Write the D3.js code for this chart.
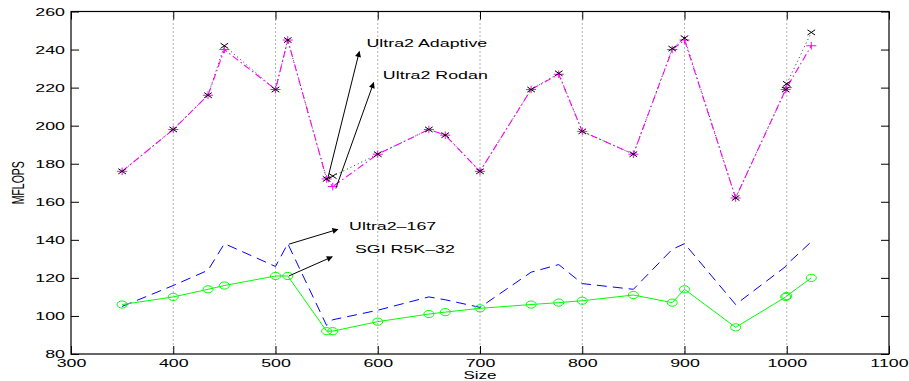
<!DOCTYPE html>
<html>
<head>
<meta charset="utf-8">
<script src="https://cdn.jsdelivr.net/npm/d3@7"></script>
<style>
  body { margin: 0; background: #fff; }
  svg { display: block; font-family: "Liberation Sans", Arial, sans-serif; }
</style>
</head>
<body>
<div id="chart"></div>
<script>
// matrix sizes and MFLOPS
const sizes = [350, 400, 434, 450, 500, 512, 550, 556, 600, 650, 666, 700, 750, 777, 800, 850, 888, 900, 950, 999, 1000, 1024]
const adaptive = [176, 198, 216, 242, 219, 245, 172, 173.5, 185, 198, 195, 176, 219, 227.5, 197, 185, 240.5, 246, 162, 219, 222, 249]
const rodan = [176, 198, 216, 240, 219, 245, 172, 168, 185, 198, 195, 176, 219, 227, 197, 185, 240, 245, 162, 219, 220, 242]
const ultra167 = [105, 116, 124, 138, 126, 138, 95, 98, 103, 110, 108.5, 104.5, 123, 127, 117, 114, 135, 138, 106, 126, 127, 139]
const sgi = [106, 110, 114, 116, 121, 121, 92, 92, 97, 101, 102, 104, 106, 107, 108, 111, 107, 114, 94, 110, 110.5, 120]

const xTickValues = [300, 400, 500, 600, 700, 800, 900, 1000, 1100]
const yTickValues = [80, 100, 120, 140, 160, 180, 200, 220, 240, 260]

// text label, arrow tail [size, mflops], arrow head, text anchor point
const annotations = [
  { label: 'Ultra2 Adaptive', from: [551, 172], to: [582, 239], at: [589, 241.5] },
  { label: 'Ultra2 Rodan', from: [559, 167], to: [596, 222.6], at: [605, 224.7] },
  { label: 'Ultra2–167', from: [513, 137.7], to: [561, 145.5], at: [572, 145.2] },
  { label: 'SGI R5K–32', from: [513, 121], to: [555.5, 131.1], at: [577.7, 132.9] }
]

const width = 909
const height = 381
const margin = { top: 11.5, right: 20, bottom: 27, left: 71 }
const stretch = 1.62 // the picture is squeezed, text comes out wide

const svg = d3.select('#chart')
  .append('svg')
  .attr('width', width)
  .attr('height', height)

const x = d3.scaleLinear()
  .domain([300, 1100])
  .range([margin.left, width - margin.right])

const y = d3.scaleLinear()
  .domain([80, 260])
  .range([height - margin.bottom, margin.top])

const defs = svg.append('defs')
defs.append('marker')
  .attr('id', 'head')
  .attr('viewBox', '0 0 10 10')
  .attr('refX', 9)
  .attr('refY', 5)
  .attr('markerWidth', 9)
  .attr('markerHeight', 6)
  .attr('markerUnits', 'userSpaceOnUse')
  .attr('orient', 'auto')
  .append('path')
  .attr('d', 'M0,0L10,5L0,10Z')
  .attr('fill', '#000')

// vertical dotted grid
svg.append('g')
  .selectAll('line')
  .data(xTickValues.slice(1, -1))
  .join('line')
  .attr('x1', d => x(d))
  .attr('x2', d => x(d))
  .attr('y1', y(260))
  .attr('y2', y(80))
  .attr('stroke', '#666')
  .attr('stroke-width', 1)
  .attr('stroke-dasharray', '1,3')

const tickLen = 8

const styleAxis = g => {
  g.select('.domain').remove()
  g.selectAll('line').attr('stroke', '#000')
  g.selectAll('text')
    .attr('fill', '#000')
    .style('font-size', '11px')
}

svg.append('g')
  .attr('transform', `translate(0,${y(80)})`)
  .call(d3.axisBottom(x).tickValues(xTickValues).tickSize(-tickLen).tickPadding(5).tickFormat(d3.format('d')))
  .call(styleAxis)
  .call(g => g.selectAll('text').attr('transform', `scale(${stretch},1)`))

svg.append('g')
  .attr('transform', `translate(0,${y(260)})`)
  .call(d3.axisTop(x).tickValues(xTickValues).tickSize(-tickLen).tickFormat(''))
  .call(styleAxis)

svg.append('g')
  .attr('transform', `translate(${x(300)},0)`)
  .call(d3.axisLeft(y).tickValues(yTickValues).tickSize(-tickLen).tickPadding(3.7).tickFormat(d3.format('d')))
  .call(styleAxis)
  .call(g => g.selectAll('text').attr('transform', `scale(${stretch},1)`))

svg.append('g')
  .attr('transform', `translate(${x(1100)},0)`)
  .call(d3.axisRight(y).tickValues(yTickValues).tickSize(-tickLen).tickFormat(''))
  .call(styleAxis)

// frame
svg.append('rect')
  .attr('x', x(300))
  .attr('y', y(260))
  .attr('width', x(1100) - x(300))
  .attr('height', y(80) - y(260))
  .attr('fill', 'none')
  .attr('stroke', '#000')
  .attr('stroke-width', 1.2)

const line = values => d3.line()
  .x((d, i) => x(sizes[i]))
  .y(d => y(d))(values)

const plot = svg.append('g')

// Ultra2-167: blue dashed, no markers
plot.append('path')
  .attr('d', line(ultra167))
  .attr('fill', 'none')
  .attr('stroke', '#0000ff')
  .attr('stroke-width', 1)
  .attr('stroke-dasharray', '10,6')

// SGI R5K-32: green solid with circles
plot.append('path')
  .attr('d', line(sgi))
  .attr('fill', 'none')
  .attr('stroke', '#00ff00')
  .attr('stroke-width', 1)

plot.append('g')
  .selectAll('ellipse')
  .data(sgi)
  .join('ellipse')
  .attr('cx', (d, i) => x(sizes[i]))
  .attr('cy', d => y(d))
  .attr('rx', 5)
  .attr('ry', 3.6)
  .attr('fill', 'none')
  .attr('stroke', '#00ff00')
  .attr('stroke-width', 1)

// Ultra2 Adaptive: black dotted line (under the magenta one)
plot.append('path')
  .attr('d', line(adaptive))
  .attr('fill', 'none')
  .attr('stroke', '#333')
  .attr('stroke-width', 1)
  .attr('stroke-dasharray', '1,3')

// Ultra2 Rodan: magenta dash-dot with plus
plot.append('path')
  .attr('d', line(rodan))
  .attr('fill', 'none')
  .attr('stroke', '#ff00ff')
  .attr('stroke-width', 1.1)
  .attr('stroke-dasharray', '7,3,1.5,3')

plot.append('g')
  .selectAll('path')
  .data(rodan)
  .join('path')
  .attr('d', (d, i) => {
    const cx = x(sizes[i])
    const cy = y(d)
    return `M${cx - 5},${cy}H${cx + 5}M${cx},${cy - 3.8}V${cy + 3.8}`
  })
  .attr('stroke', '#ff00ff')
  .attr('stroke-width', 1)

plot.append('g')
  .selectAll('path')
  .data(adaptive)
  .join('path')
  .attr('d', (d, i) => {
    const cx = x(sizes[i])
    const cy = y(d)
    return `M${cx - 3.8},${cy - 2.6}L${cx + 3.8},${cy + 2.6}M${cx - 3.8},${cy + 2.6}L${cx + 3.8},${cy - 2.6}`
  })
  .attr('stroke', '#000')
  .attr('stroke-width', 1)

// annotation arrows and labels
const notes = svg.append('g')

notes.selectAll('line')
  .data(annotations)
  .join('line')
  .attr('x1', d => x(d.from[0]))
  .attr('y1', d => y(d.from[1]))
  .attr('x2', d => x(d.to[0]))
  .attr('y2', d => y(d.to[1]))
  .attr('stroke', '#000')
  .attr('stroke-width', 1)
  .attr('marker-end', 'url(#head)')

notes.selectAll('text')
  .data(annotations)
  .join('text')
  .attr('transform', d => `translate(${x(d.at[0])},${y(d.at[1])}) scale(${stretch},1)`)
  .style('font-size', '11px')
  .attr('fill', '#000')
  .text(d => d.label)

// axis titles
svg.append('text')
  .attr('transform', `translate(${x(700)},${height - 2.5}) scale(${stretch},1)`)
  .attr('text-anchor', 'middle')
  .style('font-size', '10.5px')
  .text('Size')

svg.append('text')
  .attr('transform', `translate(24,${y(170)}) rotate(-90) scale(1,${stretch})`)
  .attr('text-anchor', 'middle')
  .style('font-size', '10.5px')
  .text('MFLOPS')
</script>
</body>
</html>
